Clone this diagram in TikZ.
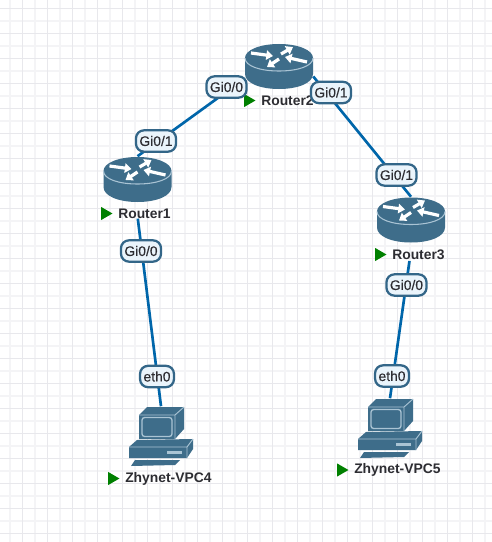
\documentclass[tikz,border=0pt]{standalone}
\usepackage{fontspec}
\setmainfont{Liberation Sans}
\newfontfamily\portfont[FakeBold=0.25]{Liberation Sans}
\usetikzlibrary{shapes.geometric, arrows.meta, positioning, calc}
\definecolor{iconBlue}{RGB}{62, 109, 138}
\definecolor{iconRim}{RGB}{170, 196, 212}
\definecolor{linkBlue}{RGB}{0, 102, 170}
\definecolor{portFill}{RGB}{234, 244, 251}
\definecolor{portEdge}{RGB}{51, 102, 136}
\definecolor{gridMajor}{RGB}{232, 232, 236}
\definecolor{gridMinor}{RGB}{244, 244, 246}
\definecolor{playGreen}{RGB}{0, 128, 0}
\definecolor{labelInk}{RGB}{45, 45, 50}

\tikzset{
    iconbox/.style={rectangle, minimum width=68*0.75pt, minimum height=45*0.75pt, inner sep=0pt},
    link/.style={linkBlue, line width=2pt},
    port/.style={rectangle, draw=portEdge, fill=portFill, line width=1.7pt, rounded corners=6pt, minimum height=16pt, inner sep=2.6pt, font=\portfont\fontsize{10.4}{12}\selectfont, text=labelInk},
    devname/.style={inner sep=0pt, font=\fontsize{10.4}{12}\selectfont\bfseries, text=labelInk},
    play/.style={isosceles triangle, isosceles triangle apex angle=60, fill=playGreen, minimum height=8.5pt, minimum width=9pt, inner sep=0pt},
    rtarrow/.style={white, line width=2.4pt, -{Triangle[length=5pt,width=7pt]}},
    pics/routericon/.style={code={
        \fill[iconBlue] (-34,-8) -- (-34,8) .. controls (-34,17) and (-19,23) .. (0,23) .. controls (19,23) and (34,17) .. (34,8) -- (34,-8) .. controls (34,-16) and (19,-22) .. (0,-22) .. controls (-19,-22) and (-34,-16) .. cycle;
        \draw[iconRim, line width=.8pt] (-34,-8) .. controls (-34,0) and (-19,5) .. (0,5) .. controls (19,5) and (34,0) .. (34,-8);
        \draw[rtarrow] (-28,-13) -- (-6,-10);
        \draw[rtarrow] (2,-12) -- (14,-19);
        \draw[rtarrow] (28,-4) -- (6,-9);
        \draw[rtarrow] (0,-7) -- (-12,1);
    }},
    pics/pcicon/.style={code={
        % monitor
        \fill[iconBlue] (-22,-21) -- (-14,-29) -- (23,-29) -- (23,-7) -- (14,3) -- (-22,3) -- cycle;
        \draw[iconRim, line width=.7pt] (-22,-21) -- (14,-21) -- (23,-29) (14,-21) -- (14,3);
        \draw[iconRim, line width=1pt, rounded corners=2pt] (-19,-18.5) rectangle (11,0.5);
        % base
        \fill[iconBlue] (-32,11) -- (-24,4) -- (32,3) -- (32,13) -- (26,22) -- (-32,22) -- cycle;
        \draw[iconRim, line width=.7pt] (-32,11) -- (26,11) -- (32,3) (26,11) -- (26,22);
        \fill[iconRim] (6,15) rectangle (21,18);
        % keyboard
        \fill[iconBlue] (-26,24) -- (19,24) -- (14,29) -- (-30,30) -- cycle;
    }}
}

\begin{document}
\begin{tikzpicture}[x=.75pt, y=-.75pt]
\useasboundingbox (0,0) rectangle (492,542);
\fill[white] (0,0) rectangle (492,542);

% background grid
\foreach \gx in {10,35,...,485} \draw[gridMinor, line width=.8pt] (\gx,0) -- (\gx,542);
\foreach \gy in {21,46,...,535} \draw[gridMinor, line width=.8pt] (0,\gy) -- (492,\gy);
\foreach \gx in {22.5,47.5,...,485} \draw[gridMajor, line width=.9pt] (\gx,0) -- (\gx,542);
\foreach \gy in {8.5,33.5,...,535} \draw[gridMajor, line width=.9pt] (0,\gy) -- (492,\gy);

% devices
\node[iconbox] (r1) at (137.5,179) {};
\node[iconbox] (r2) at (279,66) {};
\node[iconbox] (r3) at (411,219.5) {};
\node[iconbox, minimum height=59*0.75pt, minimum width=65*0.75pt] (vpc4) at (161,436) {};
\node[iconbox, minimum height=59*0.75pt, minimum width=65*0.75pt] (vpc5) at (390,428) {};

\node[devname, anchor=west] (r1name) at (118,213.5) {Router1};
\node[devname, anchor=west] (r2name) at (261,100.5) {Router2};
\node[devname, anchor=west] (r3name) at (392,254.5) {Router3};
\node[devname, anchor=west] (vpc4name) at (125,478.5) {Zhynet-VPC4};
\node[devname, anchor=west] (vpc5name) at (354,470) {Zhynet-VPC5};

\node[play, left=3.75pt of r1name.west, anchor=apex] (r1play) {};
\node[play, left=3.75pt of r2name.west, anchor=apex] (r2play) {};
\node[play, left=3.75pt of r3name.west, anchor=apex] (r3play) {};
\node[play, left=3.75pt of vpc4name.west, anchor=apex] (vpc4play) {};
\node[play, left=3.75pt of vpc5name.west, anchor=apex] (vpc5play) {};

% links
\draw[link] (r1.north) -- (r2.200);
\draw[link] (r2.-17) -- (r3.north);
\draw[link] ([xshift=-5pt]r1name.south) -- (vpc4.north);
\draw[link] ([xshift=-6.75pt, yshift=-1pt]r3name.south) -- (vpc5.north);

\pic at (r1) {routericon};
\pic at (r2) {routericon};
\pic at (r3) {routericon};
\pic at (vpc4) {pcicon};
\pic at (vpc5) {pcicon};

% port labels
\node[port] (p1) at (156,141) {Gi0/1};
\node[port] (p2) at (226.5,87) {Gi0/0};
\node[port] (p3) at (331,92.5) {Gi0/1};
\node[port] (p4) at (396.5,175) {Gi0/1};
\node[port] (p5) at (141,251) {Gi0/0};
\node[port] (p6) at (406.5,285) {Gi0/0};
\node[port] (p7) at (157,376.5) {eth0};
\node[port] (p8) at (392,376) {eth0};

\end{tikzpicture}
\end{document}
